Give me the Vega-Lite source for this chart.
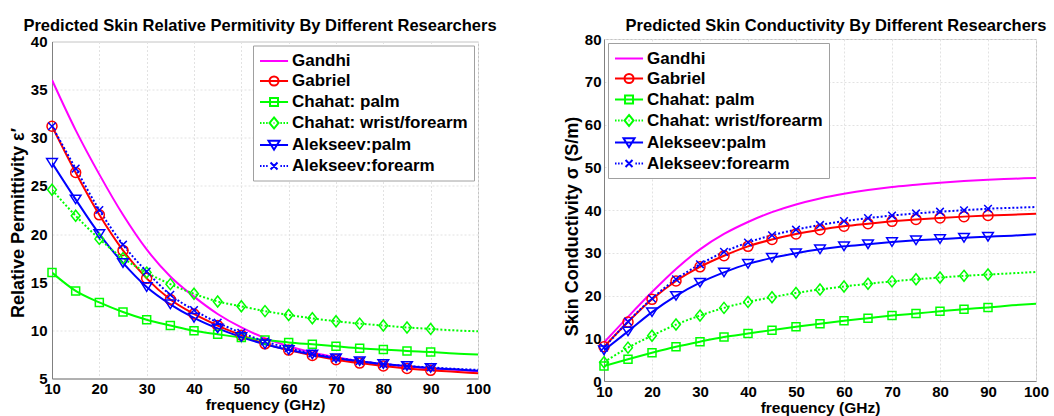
{
  "$schema": "https://vega.github.io/schema/vega-lite/v6.json",
  "background": "white",
  "padding": {"left": 8, "top": 17, "right": 2, "bottom": 2},
  "config": {
    "font": "Liberation Sans",
    "view": {"stroke": "#c4c4c4"},
    "title": {"font": "Liberation Sans", "fontSize": 16.5, "fontWeight": "bold", "color": "#000000", "anchor": "middle"},
    "axis": {
      "labelFont": "Liberation Sans", "labelFontWeight": "bold", "labelFontSize": 15, "labelColor": "#000000",
      "titleFont": "Liberation Sans", "titleFontWeight": "bold", "titleFontSize": 18, "titleColor": "#000000",
      "domainColor": "#808080", "ticks": false, "gridColor": "#e2e2e2", "gridDash": [2, 2],
      "labelFlush": false, "labelOverlap": false, "labelBound": false
    },
    "axisX": {"labelPadding": 3, "titlePadding": 1, "titleFontSize": 15.5},
    "axisY": {"labelPadding": 5, "titlePadding": 3},
    "legend": {
      "labelFont": "Liberation Sans", "labelFontWeight": "bold", "labelFontSize": 17, "labelColor": "#000000", "labelLimit": 400,
      "strokeColor": "#a0a0a0", "fillColor": "#ffffff", "padding": 6, "rowPadding": 2,
      "symbolStrokeWidth": 2, "symbolSize": 289, "symbolFillColor": "transparent", "labelOffset": 14, "offset": 4
    }
  },
  "datasets": {
    "perm": [
      {"series": "Gandhi", "freq": 10, "value": 36.0}, {"series": "Gandhi", "freq": 15, "value": 30.8}, {"series": "Gandhi", "freq": 20, "value": 26.2}, {"series": "Gandhi", "freq": 25, "value": 22.0}, {"series": "Gandhi", "freq": 30, "value": 18.4}, {"series": "Gandhi", "freq": 35, "value": 15.6}, {"series": "Gandhi", "freq": 40, "value": 13.5}, {"series": "Gandhi", "freq": 45, "value": 11.7}, {"series": "Gandhi", "freq": 50, "value": 10.3}, {"series": "Gandhi", "freq": 55, "value": 9.2}, {"series": "Gandhi", "freq": 60, "value": 8.35}, {"series": "Gandhi", "freq": 65, "value": 7.7}, {"series": "Gandhi", "freq": 70, "value": 7.2}, {"series": "Gandhi", "freq": 75, "value": 6.8}, {"series": "Gandhi", "freq": 80, "value": 6.5}, {"series": "Gandhi", "freq": 85, "value": 6.25}, {"series": "Gandhi", "freq": 90, "value": 6.05}, {"series": "Gandhi", "freq": 95, "value": 5.9}, {"series": "Gandhi", "freq": 100, "value": 5.75},
      {"series": "Gabriel", "freq": 10, "value": 31.2}, {"series": "Gabriel", "freq": 15, "value": 26.4}, {"series": "Gabriel", "freq": 20, "value": 22.0}, {"series": "Gabriel", "freq": 25, "value": 18.3}, {"series": "Gabriel", "freq": 30, "value": 15.4}, {"series": "Gabriel", "freq": 35, "value": 13.2}, {"series": "Gabriel", "freq": 40, "value": 11.7}, {"series": "Gabriel", "freq": 45, "value": 10.5}, {"series": "Gabriel", "freq": 50, "value": 9.5}, {"series": "Gabriel", "freq": 55, "value": 8.6}, {"series": "Gabriel", "freq": 60, "value": 7.95}, {"series": "Gabriel", "freq": 65, "value": 7.4}, {"series": "Gabriel", "freq": 70, "value": 6.95}, {"series": "Gabriel", "freq": 75, "value": 6.6}, {"series": "Gabriel", "freq": 80, "value": 6.3}, {"series": "Gabriel", "freq": 85, "value": 6.05}, {"series": "Gabriel", "freq": 90, "value": 5.85}, {"series": "Gabriel", "freq": 95, "value": 5.7}, {"series": "Gabriel", "freq": 100, "value": 5.55},
      {"series": "Chahat: palm", "freq": 10, "value": 16.0}, {"series": "Chahat: palm", "freq": 15, "value": 14.1}, {"series": "Chahat: palm", "freq": 20, "value": 12.9}, {"series": "Chahat: palm", "freq": 25, "value": 11.9}, {"series": "Chahat: palm", "freq": 30, "value": 11.1}, {"series": "Chahat: palm", "freq": 35, "value": 10.5}, {"series": "Chahat: palm", "freq": 40, "value": 9.95}, {"series": "Chahat: palm", "freq": 45, "value": 9.6}, {"series": "Chahat: palm", "freq": 50, "value": 9.25}, {"series": "Chahat: palm", "freq": 55, "value": 9.0}, {"series": "Chahat: palm", "freq": 60, "value": 8.75}, {"series": "Chahat: palm", "freq": 65, "value": 8.55}, {"series": "Chahat: palm", "freq": 70, "value": 8.35}, {"series": "Chahat: palm", "freq": 75, "value": 8.15}, {"series": "Chahat: palm", "freq": 80, "value": 8.0}, {"series": "Chahat: palm", "freq": 85, "value": 7.85}, {"series": "Chahat: palm", "freq": 90, "value": 7.75}, {"series": "Chahat: palm", "freq": 95, "value": 7.6}, {"series": "Chahat: palm", "freq": 100, "value": 7.5},
      {"series": "Chahat: wrist/forearm", "freq": 10, "value": 24.6}, {"series": "Chahat: wrist/forearm", "freq": 15, "value": 21.9}, {"series": "Chahat: wrist/forearm", "freq": 20, "value": 19.5}, {"series": "Chahat: wrist/forearm", "freq": 25, "value": 17.5}, {"series": "Chahat: wrist/forearm", "freq": 30, "value": 16.0}, {"series": "Chahat: wrist/forearm", "freq": 35, "value": 14.8}, {"series": "Chahat: wrist/forearm", "freq": 40, "value": 13.8}, {"series": "Chahat: wrist/forearm", "freq": 45, "value": 13.0}, {"series": "Chahat: wrist/forearm", "freq": 50, "value": 12.5}, {"series": "Chahat: wrist/forearm", "freq": 55, "value": 12.0}, {"series": "Chahat: wrist/forearm", "freq": 60, "value": 11.6}, {"series": "Chahat: wrist/forearm", "freq": 65, "value": 11.25}, {"series": "Chahat: wrist/forearm", "freq": 70, "value": 10.95}, {"series": "Chahat: wrist/forearm", "freq": 75, "value": 10.7}, {"series": "Chahat: wrist/forearm", "freq": 80, "value": 10.5}, {"series": "Chahat: wrist/forearm", "freq": 85, "value": 10.3}, {"series": "Chahat: wrist/forearm", "freq": 90, "value": 10.15}, {"series": "Chahat: wrist/forearm", "freq": 95, "value": 10.0}, {"series": "Chahat: wrist/forearm", "freq": 100, "value": 9.9},
      {"series": "Alekseev:palm", "freq": 10, "value": 27.4}, {"series": "Alekseev:palm", "freq": 15, "value": 23.6}, {"series": "Alekseev:palm", "freq": 20, "value": 20.0}, {"series": "Alekseev:palm", "freq": 25, "value": 17.0}, {"series": "Alekseev:palm", "freq": 30, "value": 14.5}, {"series": "Alekseev:palm", "freq": 35, "value": 12.7}, {"series": "Alekseev:palm", "freq": 40, "value": 11.3}, {"series": "Alekseev:palm", "freq": 45, "value": 10.2}, {"series": "Alekseev:palm", "freq": 50, "value": 9.3}, {"series": "Alekseev:palm", "freq": 55, "value": 8.55}, {"series": "Alekseev:palm", "freq": 60, "value": 7.95}, {"series": "Alekseev:palm", "freq": 65, "value": 7.5}, {"series": "Alekseev:palm", "freq": 70, "value": 7.1}, {"series": "Alekseev:palm", "freq": 75, "value": 6.8}, {"series": "Alekseev:palm", "freq": 80, "value": 6.5}, {"series": "Alekseev:palm", "freq": 85, "value": 6.3}, {"series": "Alekseev:palm", "freq": 90, "value": 6.1}, {"series": "Alekseev:palm", "freq": 95, "value": 5.95}, {"series": "Alekseev:palm", "freq": 100, "value": 5.8},
      {"series": "Alekseev:forearm", "freq": 10, "value": 31.2}, {"series": "Alekseev:forearm", "freq": 15, "value": 26.8}, {"series": "Alekseev:forearm", "freq": 20, "value": 22.5}, {"series": "Alekseev:forearm", "freq": 25, "value": 18.9}, {"series": "Alekseev:forearm", "freq": 30, "value": 16.1}, {"series": "Alekseev:forearm", "freq": 35, "value": 13.7}, {"series": "Alekseev:forearm", "freq": 40, "value": 12.1}, {"series": "Alekseev:forearm", "freq": 45, "value": 10.8}, {"series": "Alekseev:forearm", "freq": 50, "value": 9.75}, {"series": "Alekseev:forearm", "freq": 55, "value": 8.85}, {"series": "Alekseev:forearm", "freq": 60, "value": 8.15}, {"series": "Alekseev:forearm", "freq": 65, "value": 7.6}, {"series": "Alekseev:forearm", "freq": 70, "value": 7.15}, {"series": "Alekseev:forearm", "freq": 75, "value": 6.8}, {"series": "Alekseev:forearm", "freq": 80, "value": 6.5}, {"series": "Alekseev:forearm", "freq": 85, "value": 6.3}, {"series": "Alekseev:forearm", "freq": 90, "value": 6.15}, {"series": "Alekseev:forearm", "freq": 95, "value": 6.0}, {"series": "Alekseev:forearm", "freq": 100, "value": 5.9}
    ],
    "cond": [
      {"series": "Gandhi", "freq": 10, "value": 9.0}, {"series": "Gandhi", "freq": 15, "value": 15.0}, {"series": "Gandhi", "freq": 20, "value": 20.8}, {"series": "Gandhi", "freq": 25, "value": 26.2}, {"series": "Gandhi", "freq": 30, "value": 30.8}, {"series": "Gandhi", "freq": 35, "value": 34.4}, {"series": "Gandhi", "freq": 40, "value": 37.2}, {"series": "Gandhi", "freq": 45, "value": 39.5}, {"series": "Gandhi", "freq": 50, "value": 41.3}, {"series": "Gandhi", "freq": 55, "value": 42.7}, {"series": "Gandhi", "freq": 60, "value": 43.8}, {"series": "Gandhi", "freq": 65, "value": 44.7}, {"series": "Gandhi", "freq": 70, "value": 45.4}, {"series": "Gandhi", "freq": 75, "value": 45.9}, {"series": "Gandhi", "freq": 80, "value": 46.4}, {"series": "Gandhi", "freq": 85, "value": 46.8}, {"series": "Gandhi", "freq": 90, "value": 47.1}, {"series": "Gandhi", "freq": 95, "value": 47.3}, {"series": "Gandhi", "freq": 100, "value": 47.5},
      {"series": "Gabriel", "freq": 10, "value": 8.0}, {"series": "Gabriel", "freq": 15, "value": 13.8}, {"series": "Gabriel", "freq": 20, "value": 19.1}, {"series": "Gabriel", "freq": 25, "value": 23.4}, {"series": "Gabriel", "freq": 30, "value": 26.7}, {"series": "Gabriel", "freq": 35, "value": 29.3}, {"series": "Gabriel", "freq": 40, "value": 31.5}, {"series": "Gabriel", "freq": 45, "value": 33.1}, {"series": "Gabriel", "freq": 50, "value": 34.4}, {"series": "Gabriel", "freq": 55, "value": 35.4}, {"series": "Gabriel", "freq": 60, "value": 36.2}, {"series": "Gabriel", "freq": 65, "value": 36.8}, {"series": "Gabriel", "freq": 70, "value": 37.35}, {"series": "Gabriel", "freq": 75, "value": 37.8}, {"series": "Gabriel", "freq": 80, "value": 38.15}, {"series": "Gabriel", "freq": 85, "value": 38.45}, {"series": "Gabriel", "freq": 90, "value": 38.7}, {"series": "Gabriel", "freq": 95, "value": 38.9}, {"series": "Gabriel", "freq": 100, "value": 39.1},
      {"series": "Chahat: palm", "freq": 10, "value": 3.5}, {"series": "Chahat: palm", "freq": 15, "value": 5.1}, {"series": "Chahat: palm", "freq": 20, "value": 6.6}, {"series": "Chahat: palm", "freq": 25, "value": 8.0}, {"series": "Chahat: palm", "freq": 30, "value": 9.2}, {"series": "Chahat: palm", "freq": 35, "value": 10.3}, {"series": "Chahat: palm", "freq": 40, "value": 11.1}, {"series": "Chahat: palm", "freq": 45, "value": 11.9}, {"series": "Chahat: palm", "freq": 50, "value": 12.7}, {"series": "Chahat: palm", "freq": 55, "value": 13.4}, {"series": "Chahat: palm", "freq": 60, "value": 14.1}, {"series": "Chahat: palm", "freq": 65, "value": 14.7}, {"series": "Chahat: palm", "freq": 70, "value": 15.3}, {"series": "Chahat: palm", "freq": 75, "value": 15.8}, {"series": "Chahat: palm", "freq": 80, "value": 16.3}, {"series": "Chahat: palm", "freq": 85, "value": 16.8}, {"series": "Chahat: palm", "freq": 90, "value": 17.2}, {"series": "Chahat: palm", "freq": 95, "value": 17.7}, {"series": "Chahat: palm", "freq": 100, "value": 18.1},
      {"series": "Chahat: wrist/forearm", "freq": 10, "value": 4.4}, {"series": "Chahat: wrist/forearm", "freq": 15, "value": 7.8}, {"series": "Chahat: wrist/forearm", "freq": 20, "value": 10.6}, {"series": "Chahat: wrist/forearm", "freq": 25, "value": 13.2}, {"series": "Chahat: wrist/forearm", "freq": 30, "value": 15.3}, {"series": "Chahat: wrist/forearm", "freq": 35, "value": 17.1}, {"series": "Chahat: wrist/forearm", "freq": 40, "value": 18.5}, {"series": "Chahat: wrist/forearm", "freq": 45, "value": 19.6}, {"series": "Chahat: wrist/forearm", "freq": 50, "value": 20.6}, {"series": "Chahat: wrist/forearm", "freq": 55, "value": 21.4}, {"series": "Chahat: wrist/forearm", "freq": 60, "value": 22.1}, {"series": "Chahat: wrist/forearm", "freq": 65, "value": 22.75}, {"series": "Chahat: wrist/forearm", "freq": 70, "value": 23.3}, {"series": "Chahat: wrist/forearm", "freq": 75, "value": 23.8}, {"series": "Chahat: wrist/forearm", "freq": 80, "value": 24.2}, {"series": "Chahat: wrist/forearm", "freq": 85, "value": 24.6}, {"series": "Chahat: wrist/forearm", "freq": 90, "value": 24.9}, {"series": "Chahat: wrist/forearm", "freq": 95, "value": 25.2}, {"series": "Chahat: wrist/forearm", "freq": 100, "value": 25.5},
      {"series": "Alekseev:palm", "freq": 10, "value": 7.2}, {"series": "Alekseev:palm", "freq": 15, "value": 11.6}, {"series": "Alekseev:palm", "freq": 20, "value": 16.1}, {"series": "Alekseev:palm", "freq": 25, "value": 19.9}, {"series": "Alekseev:palm", "freq": 30, "value": 23.0}, {"series": "Alekseev:palm", "freq": 35, "value": 25.4}, {"series": "Alekseev:palm", "freq": 40, "value": 27.4}, {"series": "Alekseev:palm", "freq": 45, "value": 28.8}, {"series": "Alekseev:palm", "freq": 50, "value": 29.9}, {"series": "Alekseev:palm", "freq": 55, "value": 30.8}, {"series": "Alekseev:palm", "freq": 60, "value": 31.5}, {"series": "Alekseev:palm", "freq": 65, "value": 32.0}, {"series": "Alekseev:palm", "freq": 70, "value": 32.5}, {"series": "Alekseev:palm", "freq": 75, "value": 32.9}, {"series": "Alekseev:palm", "freq": 80, "value": 33.2}, {"series": "Alekseev:palm", "freq": 85, "value": 33.5}, {"series": "Alekseev:palm", "freq": 90, "value": 33.75}, {"series": "Alekseev:palm", "freq": 95, "value": 34.0}, {"series": "Alekseev:palm", "freq": 100, "value": 34.3},
      {"series": "Alekseev:forearm", "freq": 10, "value": 7.8}, {"series": "Alekseev:forearm", "freq": 15, "value": 13.9}, {"series": "Alekseev:forearm", "freq": 20, "value": 19.3}, {"series": "Alekseev:forearm", "freq": 25, "value": 23.8}, {"series": "Alekseev:forearm", "freq": 30, "value": 27.3}, {"series": "Alekseev:forearm", "freq": 35, "value": 30.2}, {"series": "Alekseev:forearm", "freq": 40, "value": 32.4}, {"series": "Alekseev:forearm", "freq": 45, "value": 34.1}, {"series": "Alekseev:forearm", "freq": 50, "value": 35.4}, {"series": "Alekseev:forearm", "freq": 55, "value": 36.5}, {"series": "Alekseev:forearm", "freq": 60, "value": 37.4}, {"series": "Alekseev:forearm", "freq": 65, "value": 38.1}, {"series": "Alekseev:forearm", "freq": 70, "value": 38.7}, {"series": "Alekseev:forearm", "freq": 75, "value": 39.2}, {"series": "Alekseev:forearm", "freq": 80, "value": 39.6}, {"series": "Alekseev:forearm", "freq": 85, "value": 39.95}, {"series": "Alekseev:forearm", "freq": 90, "value": 40.3}, {"series": "Alekseev:forearm", "freq": 95, "value": 40.5}, {"series": "Alekseev:forearm", "freq": 100, "value": 40.7}
    ]
  },
  "spacing": 126,
  "bounds": "flush",
  "center": true,
  "resolve": {
    "scale": {"color": "independent", "shape": "independent"},
    "legend": {"color": "independent", "shape": "independent"}
  },
  "hconcat": [
    {
      "width": 426, "height": 337,
      "title": {"text": "Predicted Skin Relative Permitivity By Different Researchers", "offset": 0, "dx": -5},
      "data": {"name": "perm"},
      "encoding": {
        "x": {"field": "freq", "type": "quantitative", "scale": {"domain": [10, 100], "nice": false}, "axis": {"title": "frequency (GHz)", "values": [10, 20, 30, 40, 50, 60, 70, 80, 90, 100]}},
        "y": {"field": "value", "type": "quantitative", "scale": {"domain": [5, 40], "nice": false, "zero": false}, "axis": {"title": "Relative Permittivity   ε′", "values": [5, 10, 15, 20, 25, 30, 35, 40], "titleY": 181}},
        "color": {"field": "series", "type": "nominal", "scale": {"domain": ["Gandhi", "Gabriel", "Chahat: palm", "Chahat: wrist/forearm", "Alekseev:palm", "Alekseev:forearm"], "range": ["#ff00ff", "#ff0000", "#00ff00", "#00ff00", "#0000ff", "#0000ff"]}, "legend": {"title": null, "orient": "top-right"}}
      },
      "layer": [
        {"transform": [{"filter": "datum.series !== 'Chahat: wrist/forearm' && datum.series !== 'Alekseev:forearm'"}], "mark": {"type": "line", "strokeWidth": 2, "interpolate": "monotone", "clip": true}},
        {"transform": [{"filter": "datum.series === 'Chahat: wrist/forearm' || datum.series === 'Alekseev:forearm'"}], "mark": {"type": "line", "strokeWidth": 2, "strokeDash": [2, 2], "interpolate": "monotone", "clip": true}},
        {"transform": [{"filter": "datum.series === 'Gabriel' && datum.freq <= 90"}], "mark": {"type": "point", "shape": "circle", "size": 100, "strokeWidth": 1.5, "filled": false, "opacity": 1}},
        {"transform": [{"filter": "datum.series === 'Chahat: palm' && datum.freq <= 90"}], "mark": {"type": "point", "shape": "square", "size": 64, "strokeWidth": 1.5, "filled": false, "opacity": 1}},
        {"transform": [{"filter": "datum.series === 'Chahat: wrist/forearm' && datum.freq <= 90"}], "mark": {"type": "point", "shape": "M0,-1L0.8,0L0,1L-0.8,0Z", "size": 121, "strokeWidth": 1.5, "filled": false, "opacity": 1}},
        {"transform": [{"filter": "datum.series === 'Alekseev:palm' && datum.freq <= 90"}], "mark": {"type": "point", "shape": "M-1,-0.8H1L0,0.8Z", "size": 114, "strokeWidth": 1.5, "filled": false, "opacity": 1}},
        {"transform": [{"filter": "datum.series === 'Alekseev:forearm' && datum.freq <= 90"}], "mark": {"type": "point", "shape": "M-1,-1L1,1M-1,1L1,-1", "size": 58, "strokeWidth": 1.5, "filled": false, "opacity": 1}},
        {"transform": [{"filter": "datum.freq < 0"}], "mark": {"type": "point", "filled": false, "size": 289, "strokeWidth": 2, "opacity": 1},
         "encoding": {
           "shape": {"field": "series", "type": "nominal", "scale": {"domain": ["Gandhi", "Gabriel", "Chahat: palm", "Chahat: wrist/forearm", "Alekseev:palm", "Alekseev:forearm"], "range": ["M-1,0H2.3", "M-1,0H2.3M1.18,0A0.53,0.53 0 1 1 0.12,0A0.53,0.53 0 1 1 1.18,0", "M-1,0H2.3M0.18,-0.47H1.12V0.47H0.18Z", "M-1,0H-0.82M-0.64,0H-0.46M-0.28,0H-0.1M1.4,0H1.58M1.76,0H1.94M2.12,0H2.3M0.6,0H0.7M0.65,-0.65L1.18,0L0.65,0.65L0.12,0Z", "M-1,0H2.3M0,-0.5H1.3L0.65,0.55Z", "M-1,0H-0.82M-0.64,0H-0.46M-0.28,0H-0.1M1.4,0H1.58M1.76,0H1.94M2.12,0H2.3M0.24,-0.41L1.06,0.41M0.24,0.41L1.06,-0.41"]}, "legend": {"title": null, "orient": "top-right"}}
         }}
      ]
    },
    {
      "width": 432, "height": 342,
      "title": {"text": "Predicted Skin Conductivity By Different Researchers", "offset": -2, "dx": 16},
      "data": {"name": "cond"},
      "encoding": {
        "x": {"field": "freq", "type": "quantitative", "scale": {"domain": [10, 100], "nice": false}, "axis": {"title": "frequency (GHz)", "values": [10, 20, 30, 40, 50, 60, 70, 80, 90, 100]}},
        "y": {"field": "value", "type": "quantitative", "scale": {"domain": [0, 80], "nice": false}, "axis": {"title": "Skin Conductivity σ (S/m)", "values": [0, 10, 20, 30, 40, 50, 60, 70, 80], "labelPadding": 3, "titleY": 187}},
        "color": {"field": "series", "type": "nominal", "scale": {"domain": ["Gandhi", "Gabriel", "Chahat: palm", "Chahat: wrist/forearm", "Alekseev:palm", "Alekseev:forearm"], "range": ["#ff00ff", "#ff0000", "#00ff00", "#00ff00", "#0000ff", "#0000ff"]}, "legend": {"title": null, "orient": "top-left"}}
      },
      "layer": [
        {"transform": [{"filter": "datum.series !== 'Chahat: wrist/forearm' && datum.series !== 'Alekseev:forearm'"}], "mark": {"type": "line", "strokeWidth": 2, "interpolate": "monotone", "clip": true}},
        {"transform": [{"filter": "datum.series === 'Chahat: wrist/forearm' || datum.series === 'Alekseev:forearm'"}], "mark": {"type": "line", "strokeWidth": 2, "strokeDash": [2, 2], "interpolate": "monotone", "clip": true}},
        {"transform": [{"filter": "datum.series === 'Gabriel' && datum.freq <= 90"}], "mark": {"type": "point", "shape": "circle", "size": 100, "strokeWidth": 1.5, "filled": false, "opacity": 1}},
        {"transform": [{"filter": "datum.series === 'Chahat: palm' && datum.freq <= 90"}], "mark": {"type": "point", "shape": "square", "size": 64, "strokeWidth": 1.5, "filled": false, "opacity": 1}},
        {"transform": [{"filter": "datum.series === 'Chahat: wrist/forearm' && datum.freq <= 90"}], "mark": {"type": "point", "shape": "M0,-1L0.8,0L0,1L-0.8,0Z", "size": 121, "strokeWidth": 1.5, "filled": false, "opacity": 1}},
        {"transform": [{"filter": "datum.series === 'Alekseev:palm' && datum.freq <= 90"}], "mark": {"type": "point", "shape": "M-1,-0.8H1L0,0.8Z", "size": 114, "strokeWidth": 1.5, "filled": false, "opacity": 1}},
        {"transform": [{"filter": "datum.series === 'Alekseev:forearm' && datum.freq <= 90"}], "mark": {"type": "point", "shape": "M-1,-1L1,1M-1,1L1,-1", "size": 58, "strokeWidth": 1.5, "filled": false, "opacity": 1}},
        {"transform": [{"filter": "datum.freq < 0"}], "mark": {"type": "point", "filled": false, "size": 289, "strokeWidth": 2, "opacity": 1},
         "encoding": {
           "shape": {"field": "series", "type": "nominal", "scale": {"domain": ["Gandhi", "Gabriel", "Chahat: palm", "Chahat: wrist/forearm", "Alekseev:palm", "Alekseev:forearm"], "range": ["M-1,0H2.3", "M-1,0H2.3M1.18,0A0.53,0.53 0 1 1 0.12,0A0.53,0.53 0 1 1 1.18,0", "M-1,0H2.3M0.18,-0.47H1.12V0.47H0.18Z", "M-1,0H-0.82M-0.64,0H-0.46M-0.28,0H-0.1M1.4,0H1.58M1.76,0H1.94M2.12,0H2.3M0.6,0H0.7M0.65,-0.65L1.18,0L0.65,0.65L0.12,0Z", "M-1,0H2.3M0,-0.5H1.3L0.65,0.55Z", "M-1,0H-0.82M-0.64,0H-0.46M-0.28,0H-0.1M1.4,0H1.58M1.76,0H1.94M2.12,0H2.3M0.24,-0.41L1.06,0.41M0.24,0.41L1.06,-0.41"]}, "legend": {"title": null, "orient": "top-left"}}
         }}
      ]
    }
  ]
}
